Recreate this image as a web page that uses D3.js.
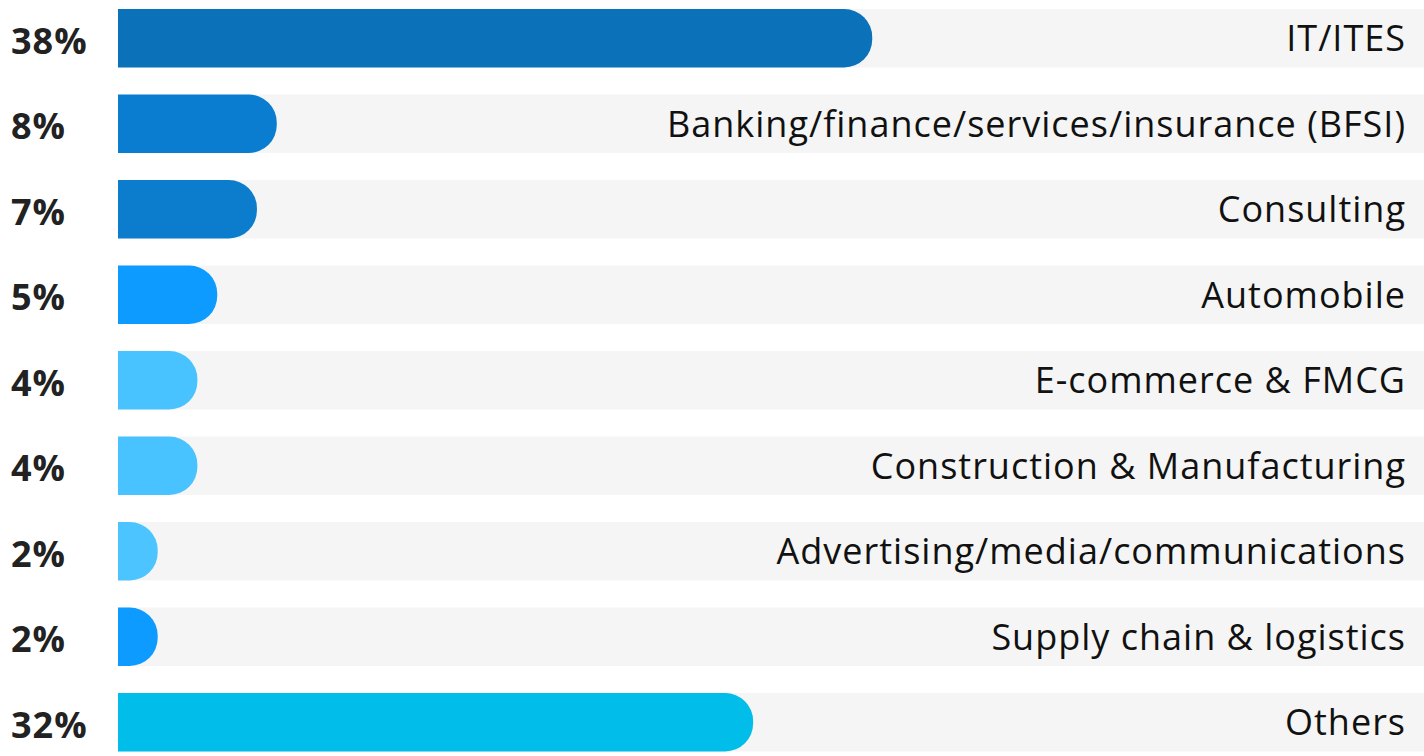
<!DOCTYPE html>
<html>
<head>
<meta charset="utf-8">
<script src="https://cdn.jsdelivr.net/npm/d3@7"></script>
<style>
  html, body { margin: 0; padding: 0; background: #ffffff; }
  svg { display: block; }
</style>
</head>
<body>
<svg id="chart" width="1424" height="756"></svg>
<script>
const categories = [
  "IT/ITES",
  "Banking/finance/services/insurance (BFSI)",
  "Consulting",
  "Automobile",
  "E-commerce & FMCG",
  "Construction & Manufacturing",
  "Advertising/media/communications",
  "Supply chain & logistics",
  "Others"
];
const values = [38, 8, 7, 5, 4, 4, 2, 2, 32];
const valueLabels = ["38%", "8%", "7%", "5%", "4%", "4%", "2%", "2%", "32%"];
const barColors = ["#0b71b9", "#0a7dd0", "#0b7dcc", "#0d9bff", "#48c3ff", "#48c3ff", "#4bc4ff", "#0d9bff", "#00bde9"];

const data = categories.map((c, i) => ({ cat: c, value: values[i], label: valueLabels[i], color: barColors[i] }));

const svg = d3.select("#chart");

const x = d3.scaleLinear().domain([0, 65.8]).range([118, 1424]);
const y = d3.scaleBand().domain(categories).range([9, 751.5]).paddingInner(27 / 85.5).paddingOuter(0);
const h = y.bandwidth();

// tracks
svg.append("g").selectAll("rect").data(data).join("rect")
  .attr("x", x(0))
  .attr("y", d => y(d.cat))
  .attr("width", x.range()[1] - x(0))
  .attr("height", h)
  .attr("fill", "#f5f5f5");

// bars with rounded right end
function barPath(d) {
  const x0 = x(0), x1 = x(d.value), y0 = y(d.cat), y1 = y0 + h;
  const r = Math.min(28, x1 - x0, h / 2);
  return `M${x0},${y0}H${x1 - r}A${r},${r} 0 0 1 ${x1},${y0 + r}V${y1 - r}A${r},${r} 0 0 1 ${x1 - r},${y1}H${x0}Z`;
}
svg.append("g").selectAll("path").data(data).join("path")
  .attr("d", barPath)
  .attr("fill", d => d.color);

// percentage labels
svg.append("g").selectAll("text").data(data).join("text")
  .attr("x", 11)
  .attr("y", d => y(d.cat) + h / 2 + 15.5)
  .attr("font-family", "'Open Sans', sans-serif")
  .attr("font-weight", 700)
  .attr("font-size", 36)
  .attr("letter-spacing", 1)
  .attr("fill", "#222222")
  .text(d => d.label);

// category labels
svg.append("g").selectAll("text").data(data).join("text")
  .attr("x", 1406)
  .attr("y", d => y(d.cat) + h / 2 + 13)
  .attr("text-anchor", "end")
  .attr("font-family", "'Open Sans', sans-serif")
  .attr("font-weight", 400)
  .attr("font-size", 36)
  .attr("letter-spacing", 1)
  .attr("fill", "#111111")
  .text(d => d.cat);
</script>
</body>
</html>
